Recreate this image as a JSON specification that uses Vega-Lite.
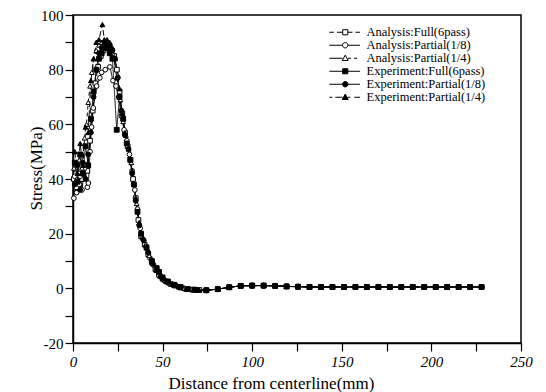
{
"$schema": "https://vega.github.io/schema/vega-lite/v6.json",
"width": 448, "height": 328,
"autosize": {"type": "none"},
"padding": {"left": 73, "top": 15, "right": 25, "bottom": 49},
"background": "white",
"config": {
  "view": {"stroke": "black", "strokeWidth": 1.5},
  "axis": {"grid": false, "domainColor": "black", "domainWidth": 1.5, "tickColor": "black", "tickWidth": 1.2, "tickSize": 8,
    "labelColor": "black", "labelFont": "Liberation Serif", "labelFontSize": 15, "titleFont": "Liberation Serif", "titleFontSize": 17,
    "titleFontWeight": "normal", "titleColor": "black", "labelOverlap": false, "labelFlush": false}
},
"data": {"values": [
{"s":"AF","x":0.5,"y":40},{"s":"AF","x":2,"y":37},{"s":"AF","x":3.5,"y":42},{"s":"AF","x":5,"y":40},{"s":"AF","x":6.5,"y":45},{"s":"AF","x":8,"y":43},{"s":"AF","x":9.5,"y":54},{"s":"AF","x":11,"y":65},{"s":"AF","x":12.5,"y":75},{"s":"AF","x":14,"y":81},{"s":"AF","x":15.5,"y":85},{"s":"AF","x":17,"y":87},{"s":"AF","x":18.5,"y":88},{"s":"AF","x":20,"y":88},{"s":"AF","x":21.5,"y":87},{"s":"AF","x":23,"y":85},{"s":"AF","x":24.5,"y":80},{"s":"AF","x":26,"y":72},{"s":"AF","x":27.5,"y":64},{"s":"AF","x":29,"y":57},{"s":"AF","x":30.5,"y":52},{"s":"AF","x":32,"y":47},{"s":"AF","x":33.5,"y":40},{"s":"AF","x":35,"y":33},{"s":"AF","x":36.5,"y":25},{"s":"AF","x":38,"y":19},{"s":"AF","x":40,"y":16},{"s":"AF","x":42,"y":12.5},{"s":"AF","x":44,"y":9.5},{"s":"AF","x":46,"y":7},{"s":"AF","x":48,"y":5},{"s":"AF","x":50,"y":3.5},{"s":"AF","x":52,"y":2.5},{"s":"AF","x":54.5,"y":1.6},{"s":"AF","x":57,"y":1},{"s":"AF","x":60,"y":0.3},{"s":"AF","x":63.5,"y":-0.3},{"s":"AF","x":67,"y":-0.5},{"s":"AF","x":70.5,"y":-0.6},
{"s":"AF","x":74.4,"y":-0.7},{"s":"AF","x":80.8,"y":-0.3},{"s":"AF","x":87.2,"y":0.4},{"s":"AF","x":93.6,"y":0.9},{"s":"AF","x":100,"y":1},{"s":"AF","x":106.4,"y":1},{"s":"AF","x":112.8,"y":0.9},{"s":"AF","x":119.2,"y":0.7},{"s":"AF","x":125.6,"y":0.6},{"s":"AF","x":132,"y":0.5},{"s":"AF","x":138.4,"y":0.5},{"s":"AF","x":144.8,"y":0.5},{"s":"AF","x":151.2,"y":0.5},{"s":"AF","x":157.6,"y":0.5},{"s":"AF","x":164,"y":0.5},{"s":"AF","x":170.4,"y":0.5},{"s":"AF","x":176.8,"y":0.5},{"s":"AF","x":183.2,"y":0.5},{"s":"AF","x":189.6,"y":0.5},{"s":"AF","x":196,"y":0.5},{"s":"AF","x":202.4,"y":0.5},{"s":"AF","x":208.8,"y":0.5},{"s":"AF","x":215.2,"y":0.5},{"s":"AF","x":221.6,"y":0.5},{"s":"AF","x":228,"y":0.5},
{"s":"A8","x":0.5,"y":33},{"s":"A8","x":1,"y":41},{"s":"A8","x":2,"y":35},{"s":"A8","x":3.5,"y":38},{"s":"A8","x":4,"y":41},{"s":"A8","x":5,"y":36},{"s":"A8","x":6.5,"y":44},{"s":"A8","x":8,"y":37},{"s":"A8","x":8.6,"y":38.5},{"s":"A8","x":9.5,"y":50},{"s":"A8","x":10.4,"y":59},{"s":"A8","x":11.3,"y":66},{"s":"A8","x":13.2,"y":74},{"s":"A8","x":15,"y":77},{"s":"A8","x":16,"y":79},{"s":"A8","x":18,"y":80},{"s":"A8","x":20.6,"y":81},{"s":"A8","x":22.3,"y":76},{"s":"A8","x":24,"y":74},{"s":"A8","x":25.5,"y":70},{"s":"A8","x":27,"y":63},{"s":"A8","x":28.5,"y":58},{"s":"A8","x":30,"y":54},{"s":"A8","x":31.5,"y":49},{"s":"A8","x":33,"y":43},{"s":"A8","x":34.5,"y":36},{"s":"A8","x":36,"y":29},{"s":"A8","x":37.5,"y":22},{"s":"A8","x":39,"y":18},{"s":"A8","x":41,"y":15},{"s":"A8","x":43,"y":11},{"s":"A8","x":45,"y":8.5},{"s":"A8","x":47,"y":6.5},{"s":"A8","x":49,"y":4.5},{"s":"A8","x":51,"y":3},{"s":"A8","x":53.5,"y":2},{"s":"A8","x":56,"y":1.2},{"s":"A8","x":59,"y":0.5},{"s":"A8","x":62,"y":0},{"s":"A8","x":65.5,"y":-0.4},{"s":"A8","x":69,"y":-0.6},
{"s":"A8","x":74.4,"y":-0.7},{"s":"A8","x":80.8,"y":-0.3},{"s":"A8","x":87.2,"y":0.4},{"s":"A8","x":93.6,"y":0.9},{"s":"A8","x":100,"y":1},{"s":"A8","x":106.4,"y":1},{"s":"A8","x":112.8,"y":0.9},{"s":"A8","x":119.2,"y":0.7},{"s":"A8","x":125.6,"y":0.6},{"s":"A8","x":132,"y":0.5},{"s":"A8","x":138.4,"y":0.5},{"s":"A8","x":144.8,"y":0.5},{"s":"A8","x":151.2,"y":0.5},{"s":"A8","x":157.6,"y":0.5},{"s":"A8","x":164,"y":0.5},{"s":"A8","x":170.4,"y":0.5},{"s":"A8","x":176.8,"y":0.5},{"s":"A8","x":183.2,"y":0.5},{"s":"A8","x":189.6,"y":0.5},{"s":"A8","x":196,"y":0.5},{"s":"A8","x":202.4,"y":0.5},{"s":"A8","x":208.8,"y":0.5},{"s":"A8","x":215.2,"y":0.5},{"s":"A8","x":221.6,"y":0.5},{"s":"A8","x":228,"y":0.5},
{"s":"A4","x":0.5,"y":44},{"s":"A4","x":2,"y":40},{"s":"A4","x":3.5,"y":47},{"s":"A4","x":5,"y":44},{"s":"A4","x":6.5,"y":55},{"s":"A4","x":7.5,"y":60},{"s":"A4","x":8.5,"y":68},{"s":"A4","x":9.5,"y":74},{"s":"A4","x":10.5,"y":79},{"s":"A4","x":11.5,"y":84},{"s":"A4","x":13,"y":87},{"s":"A4","x":14.5,"y":89},{"s":"A4","x":16,"y":90},{"s":"A4","x":17.5,"y":90},{"s":"A4","x":19,"y":89},{"s":"A4","x":20.5,"y":88},{"s":"A4","x":22,"y":86},{"s":"A4","x":23.5,"y":84},{"s":"A4","x":25,"y":78},{"s":"A4","x":26.5,"y":69},{"s":"A4","x":28,"y":61},{"s":"A4","x":29.5,"y":56},{"s":"A4","x":31,"y":51},{"s":"A4","x":32.5,"y":46},{"s":"A4","x":34,"y":38},{"s":"A4","x":35.5,"y":31},{"s":"A4","x":37,"y":24},{"s":"A4","x":38.5,"y":19},{"s":"A4","x":40.5,"y":16},{"s":"A4","x":42.5,"y":12},{"s":"A4","x":44.5,"y":9},{"s":"A4","x":46.5,"y":6.5},{"s":"A4","x":48.5,"y":4.5},{"s":"A4","x":51,"y":3},{"s":"A4","x":53.5,"y":2},{"s":"A4","x":56,"y":1.3},{"s":"A4","x":59,"y":0.6},{"s":"A4","x":62,"y":0},{"s":"A4","x":66,"y":-0.4},{"s":"A4","x":70,"y":-0.6},
{"s":"A4","x":74.4,"y":-0.7},{"s":"A4","x":80.8,"y":-0.3},{"s":"A4","x":87.2,"y":0.4},{"s":"A4","x":93.6,"y":0.9},{"s":"A4","x":100,"y":1},{"s":"A4","x":106.4,"y":1},{"s":"A4","x":112.8,"y":0.9},{"s":"A4","x":119.2,"y":0.7},{"s":"A4","x":125.6,"y":0.6},{"s":"A4","x":132,"y":0.5},{"s":"A4","x":138.4,"y":0.5},{"s":"A4","x":144.8,"y":0.5},{"s":"A4","x":151.2,"y":0.5},{"s":"A4","x":157.6,"y":0.5},{"s":"A4","x":164,"y":0.5},{"s":"A4","x":170.4,"y":0.5},{"s":"A4","x":176.8,"y":0.5},{"s":"A4","x":183.2,"y":0.5},{"s":"A4","x":189.6,"y":0.5},{"s":"A4","x":196,"y":0.5},{"s":"A4","x":202.4,"y":0.5},{"s":"A4","x":208.8,"y":0.5},{"s":"A4","x":215.2,"y":0.5},{"s":"A4","x":221.6,"y":0.5},{"s":"A4","x":228,"y":0.5},
{"s":"EF","x":1,"y":46},{"s":"EF","x":2.5,"y":39},{"s":"EF","x":4,"y":49},{"s":"EF","x":5.5,"y":42},{"s":"EF","x":7,"y":52},{"s":"EF","x":8.5,"y":45},{"s":"EF","x":10,"y":62},{"s":"EF","x":11.5,"y":72},{"s":"EF","x":13,"y":80},{"s":"EF","x":14.5,"y":84},{"s":"EF","x":16,"y":86},{"s":"EF","x":17.5,"y":88},{"s":"EF","x":19,"y":88},{"s":"EF","x":20.5,"y":86},{"s":"EF","x":22,"y":84},{"s":"EF","x":24.4,"y":58},{"s":"EF","x":26,"y":70},{"s":"EF","x":28,"y":62},{"s":"EF","x":30,"y":53},{"s":"EF","x":32,"y":47},{"s":"EF","x":34,"y":38},{"s":"EF","x":36,"y":28},{"s":"EF","x":38,"y":20},{"s":"EF","x":41,"y":15},{"s":"EF","x":44,"y":10},{"s":"EF","x":46.7,"y":7.4},{"s":"EF","x":48,"y":6},{"s":"EF","x":50,"y":4},{"s":"EF","x":53,"y":2.5},{"s":"EF","x":56.5,"y":1.3},{"s":"EF","x":60,"y":0.5},{"s":"EF","x":64,"y":-0.3},{"s":"EF","x":68,"y":-0.5},
{"s":"EF","x":74.4,"y":-0.7},{"s":"EF","x":80.8,"y":-0.3},{"s":"EF","x":87.2,"y":0.4},{"s":"EF","x":93.6,"y":0.9},{"s":"EF","x":100,"y":1},{"s":"EF","x":106.4,"y":1},{"s":"EF","x":112.8,"y":0.9},{"s":"EF","x":119.2,"y":0.7},{"s":"EF","x":125.6,"y":0.6},{"s":"EF","x":132,"y":0.5},{"s":"EF","x":138.4,"y":0.5},{"s":"EF","x":144.8,"y":0.5},{"s":"EF","x":151.2,"y":0.5},{"s":"EF","x":157.6,"y":0.5},{"s":"EF","x":164,"y":0.5},{"s":"EF","x":170.4,"y":0.5},{"s":"EF","x":176.8,"y":0.5},{"s":"EF","x":183.2,"y":0.5},{"s":"EF","x":189.6,"y":0.5},{"s":"EF","x":196,"y":0.5},{"s":"EF","x":202.4,"y":0.5},{"s":"EF","x":208.8,"y":0.5},{"s":"EF","x":215.2,"y":0.5},{"s":"EF","x":221.6,"y":0.5},{"s":"EF","x":228,"y":0.5},
{"s":"E8","x":1,"y":38},{"s":"E8","x":2.5,"y":45},{"s":"E8","x":4,"y":36},{"s":"E8","x":5.5,"y":46},{"s":"E8","x":7,"y":40},{"s":"E8","x":8.5,"y":49},{"s":"E8","x":10,"y":57},{"s":"E8","x":11.5,"y":70},{"s":"E8","x":13,"y":80},{"s":"E8","x":14.5,"y":86},{"s":"E8","x":16,"y":88},{"s":"E8","x":17.5,"y":90},{"s":"E8","x":19,"y":90},{"s":"E8","x":20.5,"y":89},{"s":"E8","x":22,"y":87},{"s":"E8","x":23.5,"y":84},{"s":"E8","x":25,"y":77},{"s":"E8","x":27,"y":65},{"s":"E8","x":29,"y":56},{"s":"E8","x":31,"y":51},{"s":"E8","x":33,"y":42},{"s":"E8","x":35,"y":32},{"s":"E8","x":37,"y":23},{"s":"E8","x":39.5,"y":17.5},{"s":"E8","x":42,"y":13},{"s":"E8","x":44.5,"y":9},{"s":"E8","x":47,"y":6.5},{"s":"E8","x":50,"y":3.5},{"s":"E8","x":53,"y":2.3},{"s":"E8","x":56.5,"y":1.2},{"s":"E8","x":60,"y":0.4},{"s":"E8","x":64,"y":-0.3},{"s":"E8","x":68,"y":-0.5},
{"s":"E8","x":74.4,"y":-0.7},{"s":"E8","x":80.8,"y":-0.3},{"s":"E8","x":87.2,"y":0.4},{"s":"E8","x":93.6,"y":0.9},{"s":"E8","x":100,"y":1},{"s":"E8","x":106.4,"y":1},{"s":"E8","x":112.8,"y":0.9},{"s":"E8","x":119.2,"y":0.7},{"s":"E8","x":125.6,"y":0.6},{"s":"E8","x":132,"y":0.5},{"s":"E8","x":138.4,"y":0.5},{"s":"E8","x":144.8,"y":0.5},{"s":"E8","x":151.2,"y":0.5},{"s":"E8","x":157.6,"y":0.5},{"s":"E8","x":164,"y":0.5},{"s":"E8","x":170.4,"y":0.5},{"s":"E8","x":176.8,"y":0.5},{"s":"E8","x":183.2,"y":0.5},{"s":"E8","x":189.6,"y":0.5},{"s":"E8","x":196,"y":0.5},{"s":"E8","x":202.4,"y":0.5},{"s":"E8","x":208.8,"y":0.5},{"s":"E8","x":215.2,"y":0.5},{"s":"E8","x":221.6,"y":0.5},{"s":"E8","x":228,"y":0.5},
{"s":"E4","x":1,"y":50},{"s":"E4","x":2.5,"y":42},{"s":"E4","x":4,"y":53},{"s":"E4","x":5.5,"y":45},{"s":"E4","x":7,"y":59},{"s":"E4","x":8.5,"y":57},{"s":"E4","x":10,"y":76},{"s":"E4","x":11.5,"y":84},{"s":"E4","x":13,"y":90},{"s":"E4","x":14.5,"y":91},{"s":"E4","x":16.4,"y":96.5},{"s":"E4","x":17.5,"y":91},{"s":"E4","x":19,"y":91},{"s":"E4","x":20.5,"y":90},{"s":"E4","x":22,"y":88},{"s":"E4","x":24.4,"y":77},{"s":"E4","x":26,"y":73},{"s":"E4","x":27.5,"y":64},{"s":"E4","x":29,"y":57},{"s":"E4","x":31,"y":51},{"s":"E4","x":33,"y":43},{"s":"E4","x":35,"y":33},{"s":"E4","x":37,"y":24},{"s":"E4","x":39,"y":18.5},{"s":"E4","x":41.5,"y":14.5},{"s":"E4","x":44,"y":10},{"s":"E4","x":46.5,"y":7},{"s":"E4","x":49,"y":4.5},{"s":"E4","x":52,"y":2.8},{"s":"E4","x":55.5,"y":1.5},{"s":"E4","x":59,"y":0.6},{"s":"E4","x":63,"y":-0.2},{"s":"E4","x":67,"y":-0.5},{"s":"E4","x":70.5,"y":-0.6},
{"s":"E4","x":74.4,"y":-0.7},{"s":"E4","x":80.8,"y":-0.3},{"s":"E4","x":87.2,"y":0.4},{"s":"E4","x":93.6,"y":0.9},{"s":"E4","x":100,"y":1},{"s":"E4","x":106.4,"y":1},{"s":"E4","x":112.8,"y":0.9},{"s":"E4","x":119.2,"y":0.7},{"s":"E4","x":125.6,"y":0.6},{"s":"E4","x":132,"y":0.5},{"s":"E4","x":138.4,"y":0.5},{"s":"E4","x":144.8,"y":0.5},{"s":"E4","x":151.2,"y":0.5},{"s":"E4","x":157.6,"y":0.5},{"s":"E4","x":164,"y":0.5},{"s":"E4","x":170.4,"y":0.5},{"s":"E4","x":176.8,"y":0.5},{"s":"E4","x":183.2,"y":0.5},{"s":"E4","x":189.6,"y":0.5},{"s":"E4","x":196,"y":0.5},{"s":"E4","x":202.4,"y":0.5},{"s":"E4","x":208.8,"y":0.5},{"s":"E4","x":215.2,"y":0.5},{"s":"E4","x":221.6,"y":0.5},{"s":"E4","x":228,"y":0.5}
]},
"encoding": {
  "x": {"field": "x", "type": "quantitative", "scale": {"domain": [0, 250], "nice": false, "zero": false},
    "axis": {"values": [0,25,50,75,100,125,150,175,200,225,250], "labelExpr": "datum.value % 50 === 0 ? '' + datum.value : ''",
      "labelFontStyle": "italic", "labelPadding": 3, "title": "Distance from centerline(mm)", "titleX": 198, "titleY": 32}},
  "y": {"field": "y", "type": "quantitative", "scale": {"domain": [-20, 100], "nice": false, "zero": false},
    "axis": {"values": [-20,-10,0,10,20,30,40,50,60,70,80,90,100], "labelExpr": "datum.value % 20 === 0 ? '' + datum.value : ''",
      "labelPadding": 2, "title": "Stress(MPa)", "titleX": -28, "titleY": 153}}
},
"layer": [
  {"mark": {"type": "line", "color": "black", "strokeWidth": 1},
   "encoding": {
     "strokeDash": {"field": "s", "type": "nominal", "scale": {"domain": ["AF","A8","A4","EF","E8","E4"], "range": [[5,3],[1,0],[4,3],[1,0],[1,0],[6,3]]}, "legend": null},
     "strokeWidth": {"field": "s", "type": "nominal", "scale": {"domain": ["AF","A8","A4","EF","E8","E4"], "range": [1,1,1,1.6,1,1]}, "legend": null}
   }},
  {"mark": {"type": "point", "filled": true, "stroke": "black", "strokeWidth": 1, "opacity": 1},
   "encoding": {
     "shape": {"field": "s", "type": "nominal", "scale": {"domain": ["AF","A8","A4","EF","E8","E4"], "range": ["square","circle","triangle-up","square","circle","triangle-up"]}, "legend": null},
     "fill": {"field": "s", "type": "nominal", "scale": {"domain": ["AF","A8","A4","EF","E8","E4"], "range": ["white","white","white","black","black","black"]}, "legend": null},
     "size": {"field": "s", "type": "nominal", "scale": {"domain": ["AF","A8","A4","EF","E8","E4"], "range": [22,24,26,40,26,30]}, "legend": null}
   }},
  {"mark": {"type": "point", "filled": true, "stroke": "black", "strokeWidth": 1, "opacity": 0},
   "encoding": {
     "shape": {"field": "s", "type": "nominal",
       "scale": {"domain": ["AF","A8","A4","EF","E8","E4"], "range": [
         "M-9.3,0H-7.8M-6.8,0H-4.9M-3.1,0H-1.6M-0.6,0H0.9M-4.85,-0.85H-3.15V0.85H-4.85Z",
         "M-9.3,0H-4.9M-3.1,0H0.9M-4.9,0A0.9,0.9,0,1,0,-3.1,0A0.9,0.9,0,1,0,-4.9,0Z",
         "M-9.3,0H-4.9M-3.1,0H-2.1M-1.1,0H-0.1M-4,-1.05L-3,0.75H-5Z",
         "M-9.3,0H-4.9M-3.1,0H0.9M-4.85,-0.85H-3.15V0.85H-4.85Z",
         "M-9.3,0H-4.9M-3.1,0H0.9M-4.9,0A0.9,0.9,0,1,0,-3.1,0A0.9,0.9,0,1,0,-4.9,0Z",
         "M-9.3,0H-8.3M-7.3,0H-4.9M-3.1,0H-2.3M-1,0H0.9M-4,-1.05L-3,0.75H-5Z"]},
       "legend": {"orient": "none", "legendX": 278, "legendY": 11, "title": null, "symbolSize": 36, "symbolOpacity": 1, "symbolStrokeWidth": 1,
         "labelFont": "Liberation Serif", "labelFontSize": 12.5, "labelColor": "black", "labelOffset": 3, "rowPadding": -0.8, "padding": 0,
         "labelExpr": "datum.label == 'AF' ? 'Analysis:Full(6pass)' : datum.label == 'A8' ? 'Analysis:Partial(1/8)' : datum.label == 'A4' ? 'Analysis:Partial(1/4)' : datum.label == 'EF' ? 'Experiment:Full(6pass)' : datum.label == 'E8' ? 'Experiment:Partial(1/8)' : 'Experiment:Partial(1/4)'"}},
     "color": {"field": "s", "type": "nominal",
       "scale": {"domain": ["AF","A8","A4","EF","E8","E4"], "range": ["white","white","white","black","black","black"]},
       "legend": {"orient": "none", "legendX": 278, "legendY": 11, "title": null, "symbolSize": 36, "symbolOpacity": 1, "symbolStrokeWidth": 1,
         "labelFont": "Liberation Serif", "labelFontSize": 12.5, "labelColor": "black", "labelOffset": 3, "rowPadding": -0.8, "padding": 0,
         "labelExpr": "datum.label == 'AF' ? 'Analysis:Full(6pass)' : datum.label == 'A8' ? 'Analysis:Partial(1/8)' : datum.label == 'A4' ? 'Analysis:Partial(1/4)' : datum.label == 'EF' ? 'Experiment:Full(6pass)' : datum.label == 'E8' ? 'Experiment:Partial(1/8)' : 'Experiment:Partial(1/4)'"}}
   }}
],
"resolve": {"scale": {"shape": "independent", "color": "independent"}}
}
